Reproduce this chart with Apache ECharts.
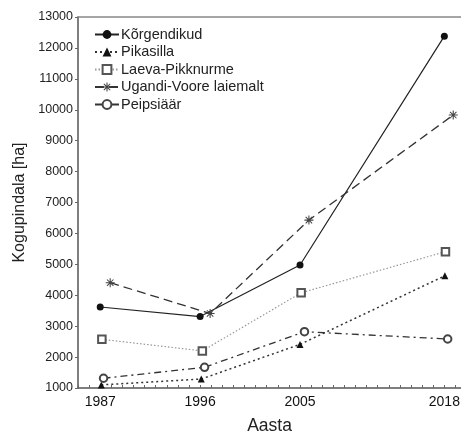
<!DOCTYPE html>
<html><head><meta charset="utf-8">
<script src="https://cdn.jsdelivr.net/npm/echarts@6/dist/echarts.min.js"></script>
<style>html,body{margin:0;padding:0;background:#fff}#c{width:461px;height:434px}</style>
</head><body><div id="c"></div>
<script>
// Data
var seriesNames = ['Kõrgendikud', 'Pikasilla', 'Laeva-Pikknurme', 'Ugandi-Voore laiemalt', 'Peipsiäär'];
var tickYears = [1987, 1996, 2005, 2018];
var korgX = [1987, 1996, 2005, 2018];
var korgY = [3620, 3310, 4980, 12380];
var pikaX = [1987.1, 1996.1, 2005.0, 2018.05];
var pikaY = [1100, 1290, 2410, 4630];
var laevaX = [1987.15, 1996.2, 2005.1, 2018.1];
var laevaY = [2575, 2200, 4080, 5410];
var ugandiX = [1987.9, 1996.9, 2005.8, 2018.8];
var ugandiY = [4405, 3410, 6430, 9830];
var peipsiX = [1987.3, 1996.4, 2005.4, 2018.3];
var peipsiY = [1315, 1670, 2820, 2585];

function pairs(xs, ys) { return xs.map(function (x, i) { return [x, ys[i]]; }); }
var asterisk = 'path://M0,4.4L10,4.4L10,5.6L0,5.6Z M4.4,0L5.6,0L5.6,10L4.4,10Z M1,1.8L1.8,1L9,8.2L8.2,9Z M8.2,1L9,1.8L1.8,9L1,8.2Z';

var chart = echarts.init(document.getElementById('c'));
var font = 'Liberation Sans, Arial, sans-serif';
chart.setOption({
  animation: false,
  textStyle: { fontFamily: font },
  grid: { left: 78, right: 0, top: 17, bottom: 46, containLabel: false, outerBoundsMode: 'none' },
  legend: {
    left: 89, top: 22, orient: 'vertical', itemGap: 2.5, itemWidth: 24, itemHeight: 11,
    textStyle: { fontFamily: font, fontSize: 14.5, lineHeight: 13, color: '#222', padding: [0, 0, 0, -3] },
    data: seriesNames
  },
  xAxis: [{
    type: 'value', min: 1985, max: 2019.5, interval: 1,
    name: 'Aasta', nameLocation: 'middle', nameGap: 29,
    nameTextStyle: { fontSize: 17.5, color: '#222', fontFamily: font },
    axisLine: { lineStyle: { color: '#555', width: 1.5 } },
    axisTick: { show: true, inside: true, length: 3, lineStyle: { color: '#666' } },
    axisLabel: {
      fontSize: 14, color: '#111', margin: 7, showMaxLabel: true,
      formatter: function (v) { var r = Math.round(v); return tickYears.indexOf(r) >= 0 && Math.abs(v - r) < 1e-6 ? String(r) : ''; }
    },
    splitLine: { show: false }
  }, {
    type: 'value', position: 'top', min: 1985, max: 2019.5,
    axisLine: { show: true, onZero: false, lineStyle: { color: '#888', width: 1.5 } },
    axisTick: { show: false }, axisLabel: { show: false }, splitLine: { show: false }
  }],
  yAxis: {
    type: 'value', min: 1000, max: 13000, interval: 1000,
    name: 'Kogupindala [ha]', nameLocation: 'middle', nameGap: 45, nameRotate: 90,
    nameTextStyle: { fontSize: 16, color: '#222', fontFamily: font },
    axisLine: { show: true, lineStyle: { color: '#555', width: 1.5 } },
    axisTick: { show: true, length: 3, lineStyle: { color: '#666' } },
    axisLabel: { fontSize: 12.5, color: '#222', margin: 5, formatter: function (v) { return String(v); } },
    splitLine: { show: false }
  },
  series: [
    { name: seriesNames[0], type: 'line', data: pairs(korgX, korgY), symbol: 'circle', symbolSize: 7,
      lineStyle: { color: '#222', width: 1.2, type: 'solid' }, itemStyle: { color: '#111' } },
    { name: seriesNames[1], type: 'line', data: pairs(pikaX, pikaY), symbol: 'triangle', symbolSize: 7,
      lineStyle: { color: '#333', width: 1.5, type: [2, 3] }, itemStyle: { color: '#111' } },
    { name: seriesNames[2], type: 'line', data: pairs(laevaX, laevaY), symbol: 'emptyRect', symbolSize: 7.5,
      lineStyle: { color: '#999', width: 1.2, type: [1.5, 2] }, itemStyle: { color: '#555', borderWidth: 1.2 } },
    { name: seriesNames[3], type: 'line', data: pairs(ugandiX, ugandiY), symbol: asterisk, symbolSize: 9,
      lineStyle: { color: '#333', width: 1.3, type: [9, 5] }, itemStyle: { color: '#444' } },
    { name: seriesNames[4], type: 'line', data: pairs(peipsiX, peipsiY), symbol: 'emptyCircle', symbolSize: 7.5,
      lineStyle: { color: '#333', width: 1.3, type: [7, 4, 2, 4] }, itemStyle: { color: '#444', borderWidth: 1.2 } }
  ]
});
</script></body></html>
